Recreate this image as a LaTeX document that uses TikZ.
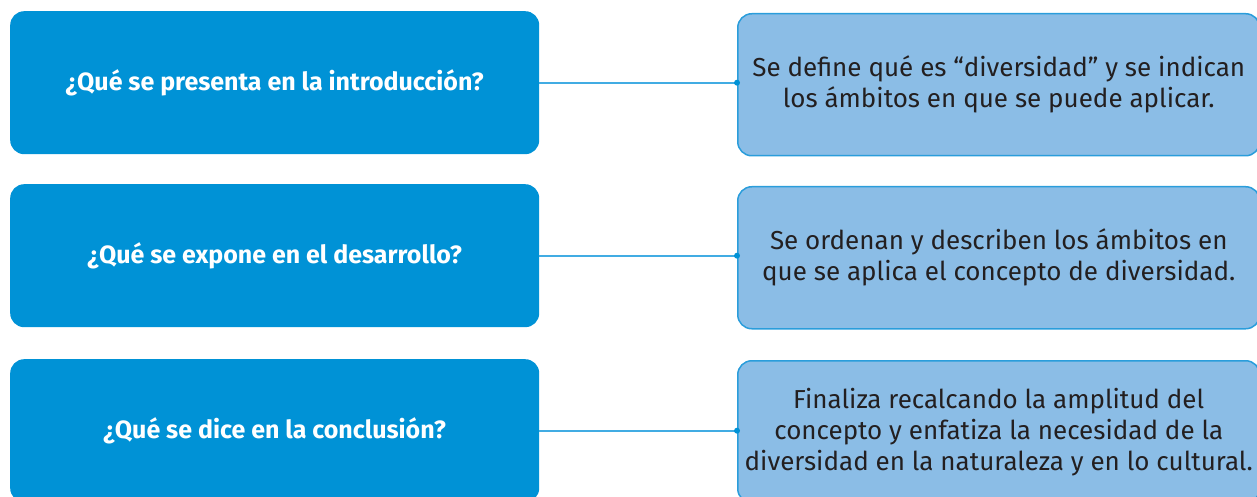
\documentclass[tikz,border=0pt]{standalone}
\usepackage{fontspec}
\setmainfont{Fira Sans}
\definecolor{qfill}{HTML}{0092D6}
\definecolor{afill}{HTML}{8BBDE6}
\definecolor{aborder}{HTML}{2A9DDB}
\definecolor{conn}{HTML}{41ACE3}
\definecolor{txt}{HTML}{231F20}
\begin{document}
\begin{tikzpicture}[x=1pt,y=1pt,
  qbox/.style={rectangle,rounded corners=14pt,fill=qfill,anchor=north west,
    minimum width=529pt,minimum height=143pt,inner sep=0pt,text=white,
    font=\fontsize{25}{29}\selectfont\bfseries,align=center},
  abox/.style={rectangle,rounded corners=14pt,fill=afill,draw=aborder,line width=1.5pt,
    anchor=north west,minimum width=522pt,minimum height=142pt,inner sep=0pt,text=txt,
    font=\fontsize{26}{31}\selectfont,align=center},
  conline/.style={draw=conn,line width=2pt},
  endot/.style={circle,fill=qfill,inner sep=0pt,minimum size=6pt}]
\useasboundingbox (0,0) rectangle (1257,-497);
\clip (0,0) rectangle (1257,-497);
\node[qbox] (q1) at (10,-11) {¿Qué se presenta en la introducción?};
\node[qbox] (q2) at (10,-184) {¿Qué se expone en el desarrollo?};
\node[qbox] (q3) at (10,-359) {¿Qué se dice en la conclusión?};
\node[abox] (a1) at (737,-13) {Se define qué es “diversidad” y se indican\\los ámbitos en que se puede aplicar.};
\node[abox] (a2) at (737,-186) {Se ordenan y describen los ámbitos en\\que se aplica el concepto de diversidad.};
\node[abox] (a3) at (737,-360) {Finaliza recalcando la amplitud del\\concepto y enfatiza la necesidad de la\\diversidad en la naturaleza y en lo cultural.};
\foreach \i in {1,2,3}{
  \coordinate (e\i) at (q\i.east -| a\i.west);
  \draw[conline] (q\i.east) -- (e\i);
  \node[endot] at (e\i) {};
}
\end{tikzpicture}
\end{document}
